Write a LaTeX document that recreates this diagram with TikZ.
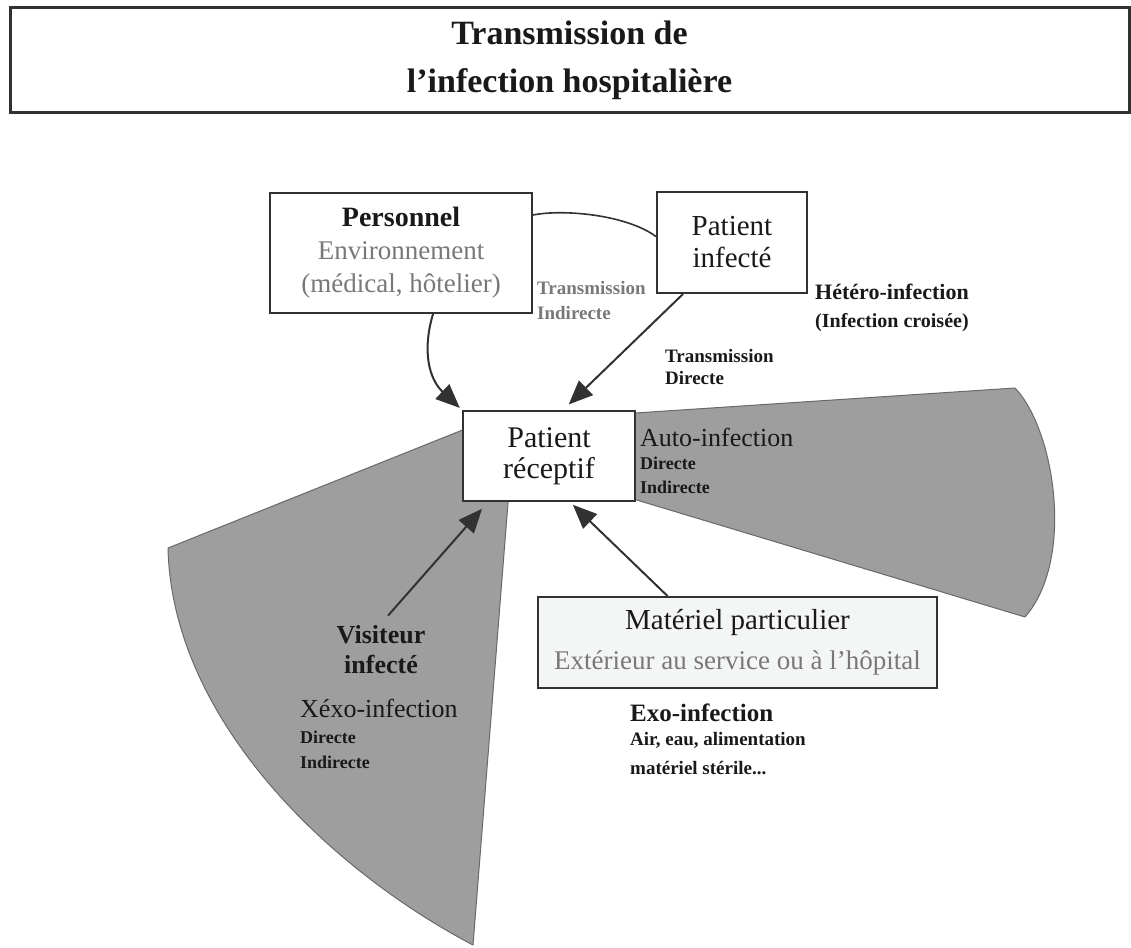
\documentclass[tikz,border=0pt]{standalone}
\usepackage{fontspec}
\setmainfont{Liberation Serif}
\usetikzlibrary{arrows.meta}
\definecolor{wedge}{RGB}{158,158,158}
\definecolor{wedgeline}{RGB}{105,105,105}
\definecolor{boxline}{RGB}{50,50,50}
\definecolor{txtgray}{RGB}{120,120,120}
\definecolor{txtdark}{RGB}{25,25,25}
\definecolor{matfill}{RGB}{244,246,246}
\begin{document}
\begin{tikzpicture}[x=1pt,y=-1pt,
  box/.style={draw=boxline, line width=2pt, fill=white, align=center, inner sep=0pt, text=txtdark},
  lbl/.style={anchor=west, inner sep=0pt, text=txtdark, align=left},
  arr/.style={draw=boxline, line width=2pt, -{Triangle[length=24pt,width=20pt]}},
  conn/.style={draw=boxline, line width=1.6pt},
  wedgeshape/.style={fill=wedge, draw=wedgeline, line width=1pt, line join=round}]
\useasboundingbox (0,0) rectangle (1131,947);

% shaded sectors
\path[wedgeshape] (470,427) -- (168,548) .. controls (172,720) and (330,870) .. (473,945) -- (508,503) -- (510,470) -- cycle;
\path[wedgeshape] (620,414) -- (1015,388) .. controls (1055,430) and (1075,560) .. (1025,617) -- (620,495) -- cycle;

% title
\node[box, line width=3pt, minimum width=1119pt, minimum height=105pt,
      font=\fontsize{34}{48}\selectfont\bfseries] (title) at (569.5,60.5)
      {Transmission de\\l'infection hospitalière};

% boxes
\node[box, minimum width=262pt, minimum height=120pt, font=\fontsize{27}{33}\selectfont] (pers) at (401,253)
      {{\fontsize{28}{33}\selectfont\bfseries Personnel}\\\textcolor{txtgray}{Environnement}\\\textcolor{txtgray}{(médical, hôtelier)}};
\node[box, minimum width=150pt, minimum height=101pt, font=\fontsize{29}{32}\selectfont] (inf) at (732,242.5)
      {Patient\\infecté};
\node[box, minimum width=172pt, minimum height=90pt, font=\fontsize{30}{31}\selectfont] (recv) at (549,456)
      {Patient\\réceptif};
\node[box, fill=matfill, minimum width=399pt, minimum height=91pt, font=\fontsize{27}{40}\selectfont] (mat) at (737.5,642.5)
      {{\fontsize{29}{40}\selectfont Matériel particulier}\\\textcolor{txtgray}{Extérieur au service ou à l'hôpital}};

% labels
\node[lbl, text=txtgray, font=\fontsize{19}{25}\selectfont\bfseries] (ti) at (537,300) {Transmission\\Indirecte};
\node[lbl, font=\fontsize{19}{22}\selectfont\bfseries] (td) at (665,367) {Transmission\\Directe};
\node[lbl, font=\fontsize{22}{31}\selectfont\bfseries] (het) at (815,292) {Hétéro-infection};
\node[lbl, font=\fontsize{20}{31}\selectfont\bfseries] (het2) at (815,323) {(Infection croisée)};
\node[lbl, font=\fontsize{26}{30}\selectfont] (auto) at (640,437) {Auto-infection};
\node[lbl, font=\fontsize{18}{24}\selectfont\bfseries] (auto1) at (640,463) {Directe};
\node[lbl, font=\fontsize{18}{24}\selectfont\bfseries] (auto2) at (640,487) {Indirecte};
\node[inner sep=10pt, align=center, text=txtdark, font=\fontsize{26}{30}\selectfont\bfseries] (vis) at (381,650) {Visiteur\\infecté};
\node[lbl, font=\fontsize{26}{30}\selectfont] (xexo) at (300,708) {Xéxo-infection};
\node[lbl, font=\fontsize{18}{24}\selectfont\bfseries] (xexo1) at (300,737) {Directe};
\node[lbl, font=\fontsize{18}{24}\selectfont\bfseries] (xexo2) at (300,762) {Indirecte};
\node[lbl, font=\fontsize{25}{30}\selectfont\bfseries] (exo) at (630,713) {Exo-infection};
\node[lbl, font=\fontsize{19}{28}\selectfont\bfseries] (exo1) at (630,740) {Air, eau, alimentation};
\node[lbl, font=\fontsize{19}{28}\selectfont\bfseries] (exo2) at (630,768) {matériel stérile...};

% connectors
\draw[conn] ([yshift=-23pt]pers.north east) .. controls +(30,-6) and +(-30,-22) .. ([yshift=6pt]inf.west);
\draw[arr, shorten >=3pt] ([xshift=32pt]pers.south) .. controls +(-11,37) and +(-33,-31) .. (recv.north west);
\draw[arr, shorten >=8pt] ([xshift=-49pt]inf.south) -- ([xshift=14pt]recv.north);
\draw[arr, shorten >=9pt] ([xshift=7pt]vis.north) -- ([xshift=26pt]recv.south west);
\draw[arr, shorten >=4pt] ([xshift=-70pt]mat.north) -- ([xshift=21pt]recv.south);
\end{tikzpicture}
\end{document}
